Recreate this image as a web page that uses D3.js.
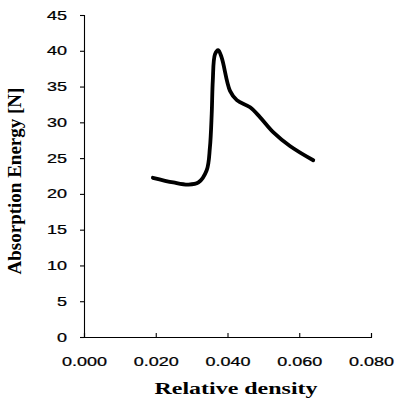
<!DOCTYPE html>
<html>
<head>
<meta charset="utf-8">
<script src="https://cdn.jsdelivr.net/npm/d3@7/dist/d3.min.js"></script>
<style>
  html, body { margin: 0; padding: 0; background: #fff; }
  svg { display: block; }
</style>
</head>
<body>
<svg id="chart" width="397" height="403"></svg>
<script>
// Data
const relativeDensity = [0.0192, 0.0249, 0.0291, 0.0319, 0.0342, 0.0351, 0.0356, 0.0359, 0.0365, 0.0374, 0.0384, 0.0407, 0.0426, 0.0463, 0.0491, 0.0528, 0.0574, 0.0639];
const absorptionEnergy = [22.25, 21.6, 21.3, 21.6, 23.3, 26.5, 31.2, 35.8, 39.5, 40.1, 39.0, 34.4, 33.1, 32.1, 30.7, 28.6, 26.7, 24.7];
const xTicks = [0, 0.02, 0.04, 0.06, 0.08];
const yTicks = [0, 5, 10, 15, 20, 25, 30, 35, 40, 45];
const xTitle = "Relative density";
const yTitle = "Absorption Energy [N]";

const svg = d3.select("#chart");
const x = d3.scaleLinear().domain([0, 0.08]).range([84, 371]);
const y = d3.scaleLinear().domain([0, 45]).range([337, 15]);

const tickFont = "'Liberation Sans', Arial, sans-serif";
const stretch = 1.44;

function styleTicks(sel) {
  sel.attr("font-family", tickFont).attr("font-size", 12.5).attr("fill", "#000")
    .attr("stroke", "#000").attr("stroke-width", 0.25)
    .each(function () {
      const t = d3.select(this);
      const xv = +t.attr("x") || 0;
      t.attr("x", xv / stretch).attr("transform", `scale(${stretch},1)`);
    });
}

// y axis
const yAxis = svg.append("g")
  .attr("transform", `translate(${x(0)},0)`)
  .call(d3.axisLeft(y).tickValues(yTicks).tickSize(4).tickPadding(13).tickFormat(d3.format("d")));
yAxis.select(".domain").attr("stroke", "#000").attr("stroke-width", 1.1);
yAxis.selectAll(".tick line").attr("stroke", "#000").attr("stroke-width", 1.1);
styleTicks(yAxis.selectAll(".tick text"));

// x axis (ticks pointing inward)
const xAxis = svg.append("g")
  .attr("transform", `translate(0,${y(0)})`)
  .call(d3.axisBottom(x).tickValues(xTicks).tickSize(-4).tickPadding(20).tickFormat(d3.format(".3f")));
xAxis.select(".domain").attr("stroke", "#000").attr("stroke-width", 1.1);
xAxis.selectAll(".tick line").attr("stroke", "#000").attr("stroke-width", 1.1);
styleTicks(xAxis.selectAll(".tick text"));

// curve
const pts = relativeDensity.map((d, i) => [d, absorptionEnergy[i]]);
svg.append("path")
  .datum(pts)
  .attr("fill", "none")
  .attr("stroke", "#000")
  .attr("stroke-width", 3.8)
  .attr("stroke-linecap", "round")
  .attr("stroke-linejoin", "round")
  .attr("d", d3.line().x(d => x(d[0])).y(d => y(d[1])).curve(d3.curveCatmullRom.alpha(0.5)));

// titles
svg.append("text")
  .attr("transform", `translate(236,394) scale(1.41,1)`)
  .attr("text-anchor", "middle")
  .attr("font-family", "'Liberation Serif', 'Times New Roman', serif")
  .attr("font-weight", "bold").attr("font-size", 17)
  .text(xTitle);

svg.append("text")
  .attr("transform", "translate(21,181) rotate(-90)")
  .attr("text-anchor", "middle")
  .attr("font-family", "'Liberation Serif', 'Times New Roman', serif")
  .attr("font-weight", "bold").attr("font-size", 19)
  .text(yTitle);
</script>
</body>
</html>
